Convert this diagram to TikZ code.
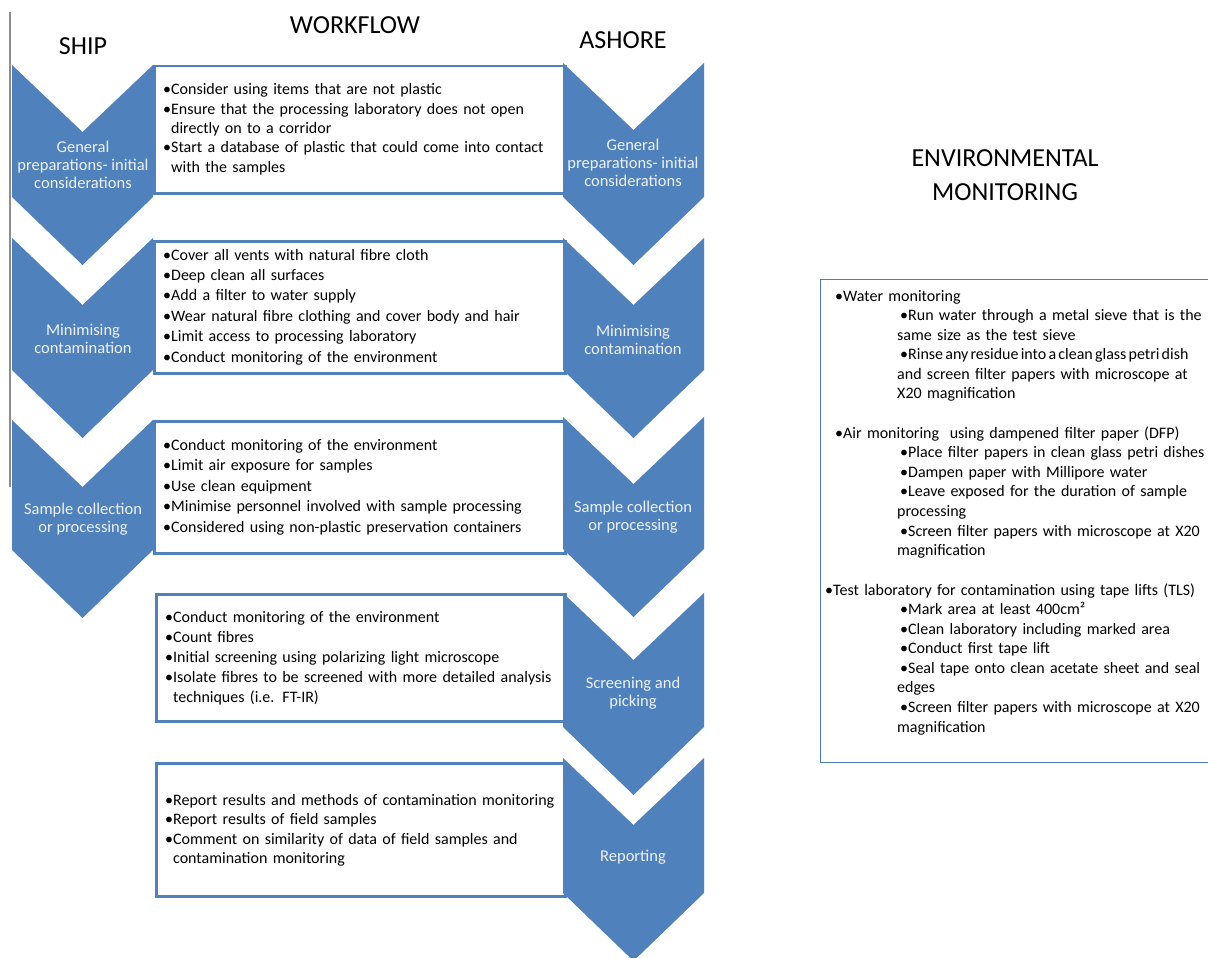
\documentclass[tikz,border=0pt]{standalone}
\usepackage{fontspec}
\setmainfont{Carlito}
\definecolor{chev}{HTML}{4F81BD}
\definecolor{chevtxt}{HTML}{EEF2F8}
\definecolor{frameline}{HTML}{4A7EBB}
\tikzset{
  chevfill/.style={fill=chev, draw=none},
  wbox/.style={draw=chev, line width=2.5pt, fill=white, anchor=north west, inner sep=0pt},
  envbox/.style={draw=frameline, line width=1.4pt, fill=white, anchor=north west, inner sep=0pt},
  chevlabel/.style={text=chevtxt, align=center, font=\fontsize{16.5}{18}\selectfont, inner sep=0pt},
  boxtext/.style={anchor=base west, inner sep=0pt, text width=420pt, align=left},
  header/.style={font=\fontsize{26}{30}\selectfont, inner sep=0pt},
  envheader/.style={font=\fontsize{26}{34}\selectfont, inner sep=0pt, align=center},
}
\newcommand{\chevronshape}[3]{% left x, top y, side length
  \fill[chevfill] (#1,#2) -- (#1+70.5,#2+67) -- (#1+141,#2) -- (#1+141,#2+#3)
    -- (#1+70.5,#2+#3+68) -- (#1,#2+#3) -- cycle;}
\newcommand{\bl}{•}
\newcommand{\cind}{\phantom{•}}
\newcommand{\subb}{\hspace*{65pt}•}
\newcommand{\subc}{\hspace*{62pt}}
\begin{document}
\begin{tikzpicture}[x=1pt,y=-1pt]
\useasboundingbox (0,0) rectangle (1208,958);
% thin grey rule at left
\draw[color=gray!90, line width=1.5pt] (10,12) -- (10,487);
% headers
\node[header] (ship) at (83,46) {SHIP};
\node[header] (workflow) at (355,25) {WORKFLOW};
\node[header] (ashore) at (623,40) {ASHORE};
\node[envheader] (envhead) at (1005,175) {ENVIRONMENTAL\\MONITORING};
% white boxes
\node[wbox, minimum width=411pt, minimum height=127pt] (b1) at (153,65) {};
\node[wbox, minimum width=411pt, minimum height=132pt] (b2) at (153,240) {};
\node[wbox, minimum width=411pt, minimum height=132pt] (b3) at (153,420) {};
\node[wbox, minimum width=409pt, minimum height=127pt] (b4) at (155,593) {};
\node[wbox, minimum width=409pt, minimum height=133pt] (b5) at (155,762) {};
% chevrons ship
\chevronshape{12}{65}{132}
\chevronshape{12}{238}{132}
\chevronshape{12}{420}{130}
% chevrons ashore
\chevronshape{563}{63}{134}
\chevronshape{563}{238}{132}
\chevronshape{563}{417}{132}
\chevronshape{563}{593}{134}
\chevronshape{563}{758}{135}
% chevron labels
\node[chevlabel] (s1) at (83,165) {General\\preparations- initial\\considerations};
\node[chevlabel] (s2) at (83,339) {Minimising\\contamination};
\node[chevlabel] (s3) at (83,519) {Sample collection\\or processing};
\node[chevlabel] (a1) at (633,163) {General\\preparations- initial\\considerations};
\node[chevlabel] (a2) at (633,340) {Minimising\\contamination};
\node[chevlabel] (a3) at (633,517) {Sample collection\\or processing};
\node[chevlabel] (a4) at (633,693) {Screening and\\picking};
\node[chevlabel] (a5) at (633,857) {Reporting};
% box texts
\node[boxtext, font=\fontsize{16}{19.3}\selectfont] (t1) at (163,95) {\bl Consider using items that are not plastic\\
\bl Ensure that the processing laboratory does not open\\
\cind directly on to a corridor\\
\bl Start a database of plastic that could come into contact\\
\cind with the samples};
\node[boxtext, font=\fontsize{16}{20.4}\selectfont] (t2) at (163,260) {\bl Cover all vents with natural fibre cloth\\
\bl Deep clean all surfaces\\
\bl Add a filter to water supply\\
\bl Wear natural fibre clothing and cover body and hair\\
\bl Limit access to processing laboratory\\
\bl Conduct monitoring of the environment};
\node[boxtext, font=\fontsize{16}{20.5}\selectfont] (t3) at (163,450) {\bl Conduct monitoring of the environment\\
\bl Limit air exposure for samples\\
\bl Use clean equipment\\
\bl Minimise personnel involved with sample processing\\
\bl Considered using non-plastic preservation containers};
\node[boxtext, font=\fontsize{16}{20.2}\selectfont] (t4) at (165,622) {\bl Conduct monitoring of the environment\\
\bl Count fibres\\
\bl Initial screening using polarizing light microscope\\
\bl Isolate fibres to be screened with more detailed analysis\\
\cind techniques (i.e. FT-IR)};
\node[boxtext, font=\fontsize{16}{19.5}\selectfont] (t5) at (165,805) {\bl Report results and methods of contamination monitoring\\
\bl Report results of field samples\\
\bl Comment on similarity of data of field samples and\\
\cind contamination monitoring};
% environmental monitoring box
\node[envbox, minimum width=400pt, minimum height=483pt] (env) at (820,279) {};
\node[boxtext, text width=380pt, font=\fontsize{16}{19.55}\selectfont] (envtext) at (835,301) {\bl Water monitoring\\
\subb Run water through a metal sieve that is the\\
\subc same size as the test sieve\\
\subb {\spaceskip=2.2pt\relax Rinse any residue into a clean glass petri dish}\\
\subc and screen filter papers with microscope at\\
\subc X20 magnification\\[20pt]
\bl Air monitoring \ using dampened filter paper (DFP)\\
\subb Place filter papers in clean glass petri dishes\\
\subb Dampen paper with Millipore water\\
\subb Leave exposed for the duration of sample\\
\subc processing\\
\subb Screen filter papers with microscope at X20\\
\subc magnification\\[20pt]
\hspace*{-10pt}\bl Test laboratory for contamination using tape lifts (TLS)\\
\subb Mark area at least 400cm²\\
\subb Clean laboratory including marked area\\
\subb Conduct first tape lift\\
\subb Seal tape onto clean acetate sheet and seal\\
\subc edges\\
\subb Screen filter papers with microscope at X20\\
\subc magnification};
\end{tikzpicture}
\end{document}
